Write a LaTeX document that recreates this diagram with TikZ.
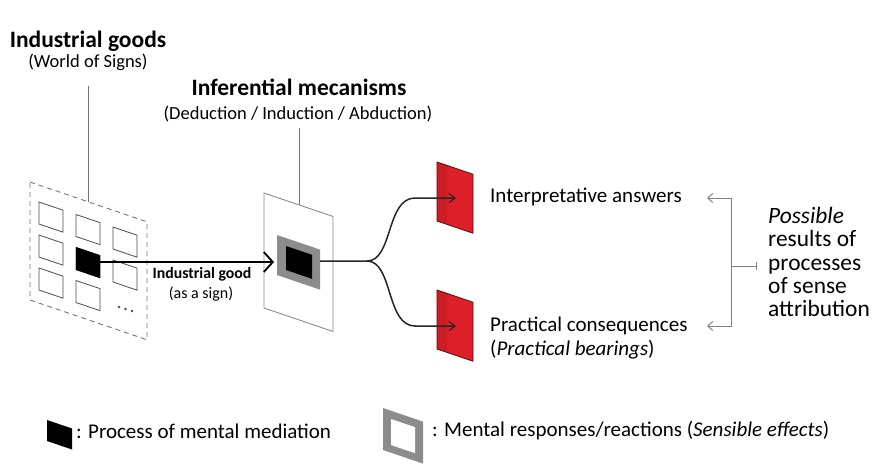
\documentclass[tikz,border=0pt]{standalone}
\usepackage{fontspec}
\setmainfont{Carlito}
\usetikzlibrary{arrows.meta}
\newcommand\pgm[4]{(#1,#2) -- ++(#3,{0.34*#3}) -- ++(0,#4) -- ++(-#3,{-0.34*#3}) -- cycle}
\definecolor{redpanel}{RGB}{221,32,40}
\definecolor{rededge}{RGB}{90,10,15}
\begin{document}
\begin{tikzpicture}[x=1pt,y=-1pt,
  titlefont/.style={font=\bfseries\fontsize{23.5}{27}\selectfont},
  subfont/.style={font=\fontsize{18.5}{22}\selectfont},
  labfont/.style={font=\fontsize{21}{24}\selectfont},
  cell/.style={draw=black!70,line width=0.8pt,fill=white},
  graybr/.style={draw=black!50,line width=1pt},
  mainline/.style={draw=black,line width=1.8pt},
  branch/.style={draw=black!85,line width=1.5pt,-{Straight Barb[length=6pt,width=9pt,line width=1.2pt]}},
  gtip/.tip={Straight Barb[length=5pt,width=9pt]},
]
\useasboundingbox (0,0) rectangle (878,464);

% ---------- titles ----------
\node[titlefont,inner sep=0] (tgoods) at (88,41) {Industrial goods};
\node[subfont,inner sep=0] (tgoodss) at (88,62) {(World of Signs)};
\node[titlefont,inner sep=0] (tinf) at (299,87) {Inferential mecanisms};
\node[subfont,inner sep=0] (tinfs) at (298,114) {(Deduction / Induction / Abduction)};

% ---------- left dashed panel ----------
\draw[black!55,line width=0.9pt,dash pattern=on 5pt off 4pt] \pgm{30}{182}{117}{118};
\coordinate (gtop) at (88,202);
\coordinate (gl) at (88,86);
\draw[black!55,line width=0.9pt] (gl) -- (gtop);
\foreach \i in {0,1,2}{
  \foreach \j in {0,1,2}{
    \pgfmathsetmacro\xx{39+37*\i}
    \pgfmathsetmacro\yy{202+33*\j+12.5*\i}
    \ifnum\i=2 \ifnum\j=2 \else \draw[cell] \pgm{\xx}{\yy}{24}{22}; \fi
    \else \draw[cell] \pgm{\xx}{\yy}{24}{22}; \fi
  }
}
\fill[black] \pgm{76}{247}{24}{23};
\foreach \k in {0,1,2}{\fill[black!70] ({119+6.5*\k},{307+2*\k}) circle (1.3);}

% ---------- middle panel ----------
\draw[black!45,line width=0.9pt,fill=white] \pgm{264}{193}{69}{115};
\coordinate (itop) at (299,205);
\coordinate (il) at (299,128);
\draw[black!55,line width=0.9pt] (il) -- (itop);
\fill[black!45] \pgm{277}{235}{43}{40};
\fill[black] \pgm{286}{246}{26}{24};

% ---------- main arrow ----------
\coordinate (blk) at (100,262);
\coordinate (tip) at (274,262);
\draw[mainline,-{Straight Barb[length=9pt,width=20pt,line width=1.8pt]}] (blk) -- (tip);
\node[font=\bfseries\fontsize{15.8}{18}\selectfont,inner sep=0] (lg) at (202,274) {Industrial good};
\node[font=\fontsize{16}{18}\selectfont,inner sep=0] (lgs) at (201,294) {(as a sign)};

% ---------- red panels ----------
\foreach \yy/\nm in {162/ra,290/rb}{
  \fill[redpanel] \pgm{437}{\yy}{36}{59};
  \fill[redpanel!85!black,opacity=0.5] \pgm{437}{\yy}{10}{59};
  \draw[rededge,line width=0.8pt] \pgm{437}{\yy}{36}{59};
}
\coordinate (fa) at (320,261);
\coordinate (fb) at (367,261);
\coordinate (ea) at (456,198);
\coordinate (eb) at (456,326);
\draw[branch] (fa) -- (fb) .. controls (393,261) and (386,198) .. (415,198) -- (ea);
\draw[branch] (fb) .. controls (393,261) and (386,326) .. (415,326) -- (eb);

% ---------- result labels ----------
\node[labfont,anchor=west,inner sep=0] (ans) at (490,197) {Interpretative answers};
\node[labfont,anchor=west,inner sep=0] (cons) at (490,326) {Practical consequences};
\node[labfont,anchor=west,inner sep=0] (bear) at (490,350) {(\textit{Practical bearings})};

% ---------- bracket ----------
\coordinate (ba) at (707,198);
\coordinate (bb) at (707,326);
\coordinate (bm) at (731,266);
\coordinate (be) at (757,266);
\draw[graybr,gtip-gtip] (ba) -- (731,198) -- (731,326) -- (bb);
\draw[graybr,-{Bar[width=8pt]}] (bm) -- (be);
\node[anchor=west,align=left,inner sep=0,font=\fontsize{23.4}{23.4}\selectfont] (poss) at (768,262)
  {\textit{Possible}\\results of\\processes\\of sense\\attribution};

% ---------- legend ----------
\fill[black] \pgm{47}{420}{25}{21};
\node[labfont,anchor=west,inner sep=0] (leg1) at (76,431) {: Process of mental mediation};
\fill[black!45] \pgm{383}{408}{40}{42};
\fill[white] \pgm{391}{419}{24}{26};
\node[labfont,anchor=west,inner sep=0] (leg2) at (432,431) {: Mental responses/reactions (\textit{Sensible effects})};
\end{tikzpicture}
\end{document}
